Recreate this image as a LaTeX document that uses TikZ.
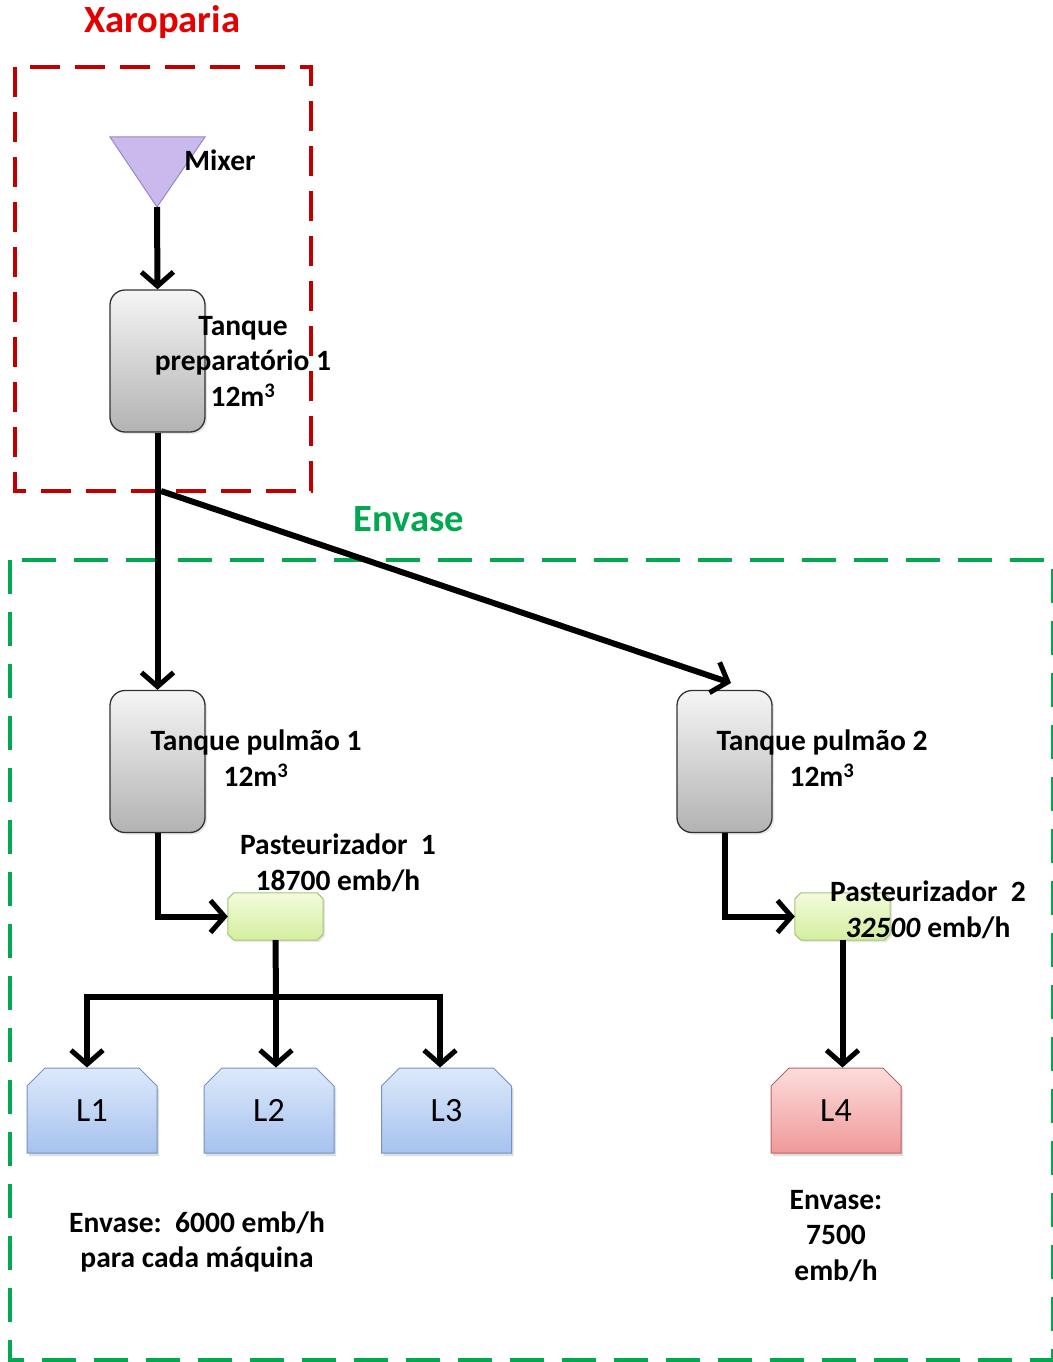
\documentclass[tikz,border=0pt]{standalone}
\usepackage{fontspec}
\setmainfont{Carlito}
\usetikzlibrary{arrows.meta,shapes.misc,shadows}

\definecolor{zonered}{HTML}{C00000}
\definecolor{titlered}{HTML}{E50000}
\definecolor{zonegreen}{HTML}{00A84F}
\definecolor{mixfill}{HTML}{C9B9EC}
\definecolor{mixline}{HTML}{9A86C6}
\definecolor{bluetop}{HTML}{DDE9FB}
\definecolor{bluebot}{HTML}{A6C2EE}
\definecolor{blueline}{HTML}{7092C4}
\definecolor{pinktop}{HTML}{FCDCDC}
\definecolor{pinkbot}{HTML}{F09999}
\definecolor{pinkline}{HTML}{B86464}
\definecolor{pasttop}{HTML}{F3FCDC}
\definecolor{pastbot}{HTML}{D3EE9E}
\definecolor{pastline}{HTML}{A6C47A}

\tikzset{
  lbl/.style={font=\fontsize{29.5}{35.5}\selectfont\bfseries, align=center, inner sep=0pt},
  title/.style={font=\fontsize{38.5}{42}\selectfont\bfseries, inner sep=0pt},
  tank/.style={draw=black!80, line width=1.3pt, rounded corners=15pt,
    minimum width=95pt, minimum height=142pt, top color=black!4, bottom color=black!30,
    drop shadow={shadow xshift=2pt, shadow yshift=-2pt, opacity=0.2}},
  past/.style={shape=rectangle, minimum width=95pt, minimum height=47pt, inner sep=0pt},
  pastbody/.style={draw=pastline, line width=1pt, top color=pasttop, bottom color=pastbot,
    drop shadow={shadow xshift=2pt, shadow yshift=-2pt, opacity=0.2}},
  linebox/.style={shape=chamfered rectangle, chamfered rectangle corners={north west, north east},
    chamfered rectangle xsep=9pt, chamfered rectangle ysep=9pt, line width=1pt,
    minimum width=130pt, minimum height=85pt, inner sep=0pt,
    font=\fontsize{34}{38}\selectfont,
    drop shadow={shadow xshift=2pt, shadow yshift=-3pt, opacity=0.25}},
  bluebox/.style={linebox, draw=blueline, top color=bluetop, bottom color=bluebot},
  redbox/.style={linebox, draw=pinkline, top color=pinktop, bottom color=pinkbot},
  flow/.style={line width=6pt, -{Straight Barb[length=14pt, width=32pt, line width=5pt]}},
  pipe/.style={line width=6pt},
  redzone/.style={draw=zonered, line width=3.5pt, dash pattern=on 30pt off 15pt},
  greenzone/.style={draw=zonegreen, line width=3.5pt, dash pattern=on 34pt off 18pt},
}

\begin{document}
\begin{tikzpicture}[x=1pt, y=-1pt]
  \useasboundingbox (0,0) rectangle (1052,1362);

  % zones
  \draw[redzone] (15,67) rectangle (311,491);
  \draw[greenzone] (10,560) rectangle (1053,1360);
  \node[title, text=titlered] (xaro) at (162,22) {Xaroparia};
  \node[title, text=zonegreen] (envase) at (409,519) {Envase};

  % mixer
  \draw[fill=mixfill, draw=mixline, line width=1pt] (110,137) -- (205,137) -- (157,207) -- cycle;
  \coordinate (mix) at (157,207);

  % tanks
  \node[tank] (TP) at (157.5,361) {};
  \node[tank] (T1) at (157.5,761.5) {};
  \node[tank] (T2) at (724.5,761.5) {};

  % pasteurizers: a rectangle node outlined with cut corners
  \node[past] (P1) at (275.5,916.5) {};
  \node[past] (P2) at (842.5,916.5) {};
  \foreach \p in {P1,P2}
    \path[pastbody]
      ([xshift=6pt]\p.north west) -- ([xshift=-6pt]\p.north east)
      -- ([yshift=-6pt]\p.north east) -- ([yshift=6pt]\p.south east)
      -- ([xshift=-6pt]\p.south east) -- ([xshift=6pt]\p.south west)
      -- ([yshift=6pt]\p.south west) -- ([yshift=-6pt]\p.north west) -- cycle;

  % filling lines
  \node[bluebox] (L1) at (92,1110.5) {L1};
  \node[bluebox] (L2) at (269,1110.5) {L2};
  \node[bluebox] (L3) at (446.5,1110.5) {L3};
  \node[redbox] (L4) at (836,1110.5) {L4};

  % connectors
  \coordinate (split) at (161,491);
  \coordinate (t2in) at (731,683);
  \coordinate (bl) at (87,997);
  \coordinate (bc) at (276,997);
  \coordinate (br) at (440,997);

  \draw[flow] (mix) -- (TP.north);
  \draw[flow] (TP.south) -- (T1.north);
  \draw[flow] (split) -- (t2in);
  \draw[flow] (T1.south) |- (P1.west);
  \draw[flow] (T2.south) |- (P2.west);
  \draw[pipe] (P1.south) -- (bc);
  \draw[pipe, line cap=rect] (bl) -- (br);
  \draw[flow] (bl) -- (bl |- L1.north);
  \draw[flow] (bc) -- (bc |- L2.north);
  \draw[flow] (br) -- (br |- L3.north);
  \draw[flow] (P2.south) -- (P2.south |- L4.north);

  % labels
  \node[lbl] (mixl) at (220,160) {Mixer};
  \node[lbl] (tpl) at (243,361) {Tanque\\preparatório 1\\12m\textsuperscript{3}};
  \node[lbl] (t1l) at (256,758) {Tanque pulmão 1\\12m\textsuperscript{3}};
  \node[lbl] (t2l) at (822,758) {Tanque pulmão 2\\12m\textsuperscript{3}};
  \node[lbl] (p1l) at (338,863) {Pasteurizador\ \ 1\\18700 emb/h};
  \node[lbl] (p2l) at (928,910) {Pasteurizador\ \ 2\\\textit{32500} emb/h};
  \node[lbl] (e1l) at (197,1242) {Envase:\ \ 6000 emb/h\\para cada máquina};
  \node[lbl] (e4l) at (836,1236) {Envase:\\7500\\emb/h};
\end{tikzpicture}
\end{document}
